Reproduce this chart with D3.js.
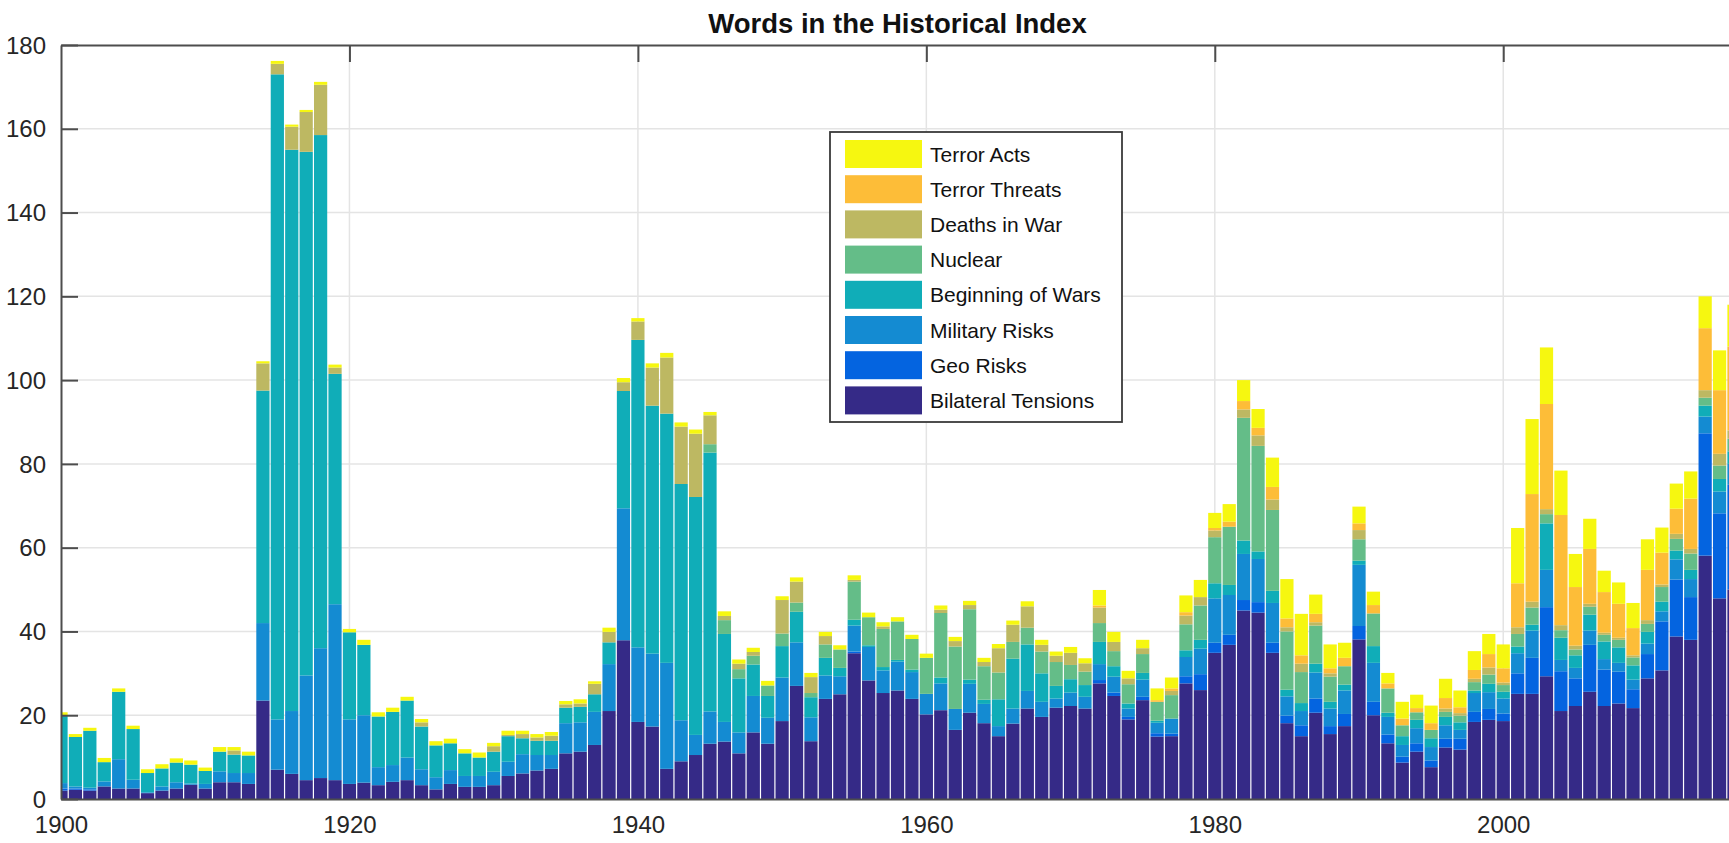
<!DOCTYPE html>
<html>
<head>
<meta charset="utf-8">
<script src="https://cdn.jsdelivr.net/npm/d3@7"></script>
<style>
  body { margin: 0; background: #fff; }
  svg { display: block; font-family: "Liberation Sans", Arial, Helvetica, sans-serif; }
</style>
</head>
<body>
<svg width="1729" height="843"></svg>
<script>
'use strict';

// Words in the Historical Index, 1900-2016
const firstYear = 1900;

const bilateral = [
    2.0, 2.2, 2.0, 3.0, 2.5, 2.5, 1.4, 2.0, 2.5, 3.4,
    2.5, 4.0, 4.0, 3.6, 23.5, 7.0, 6.0, 4.5, 5.0, 4.5,
    3.6, 3.9, 3.3, 4.1, 4.5, 3.3, 2.3, 3.6, 2.9, 2.9,
    3.3, 5.5, 6.1, 6.8, 7.2, 10.9, 11.3, 12.9, 21.0, 37.9,
    18.4, 17.3, 7.2, 9.0, 10.5, 13.2, 13.7, 10.9, 15.9, 13.2,
    18.6, 27.0, 13.8, 23.9, 25.0, 34.8, 28.3, 25.3, 25.9, 23.9,
    20.2, 21.2, 16.5, 20.6, 18.1, 15.0, 18.0, 21.6, 19.6, 21.8,
    22.2, 21.6, 27.6, 24.6, 19.0, 23.6, 14.9, 15.0, 27.6, 26.0,
    34.9, 36.8, 45.0, 44.5, 34.9, 18.1, 15.0, 20.6, 15.5, 17.4,
    38.1, 20.0, 13.3, 8.7, 11.3, 7.6, 12.3, 11.8, 18.4, 18.9,
    18.6, 25.1, 25.1, 29.3, 21.0, 22.2, 25.6, 22.2, 22.8, 21.7,
    28.8, 30.7, 38.8, 38.0, 58.1, 47.9, 50.0
];
const geo = [
    0.5, 0.3, 0.3, 0, 0, 0, 0, 0, 0, 0,
    0, 0, 0, 0, 0, 0, 0, 0, 0, 0,
    0, 0, 0, 0, 0, 0, 0, 0, 0, 0,
    0, 0, 0, 0, 0, 0, 0, 0, 0, 0,
    0, 0, 0, 0, 0, 0, 0, 0, 0, 0,
    0, 0, 0, 0, 0, 0.4, 0, 0, 0, 0,
    0, 0, 0, 0, 0, 0, 0, 0, 0, 0,
    0, 0, 0.8, 0.8, 0.6, 0.8, 0.8, 0.6, 1.7, 3.8,
    2.4, 2.4, 2.5, 2.5, 2.4, 1.8, 2.6, 3.4, 1.9, 2.9,
    3.2, 3.2, 2.1, 1.4, 2.0, 1.6, 2.1, 2.6, 2.4, 2.6,
    1.8, 4.9, 8.6, 16.5, 9.5, 6.6, 11.2, 8.7, 7.6, 4.5,
    5.8, 11.7, 13.6, 10.2, 29.2, 20.3, 25.0
];
const military = [
    1.3, 0.5, 0.4, 1.2, 7.0, 2.1, 0.2, 1.0, 1.5, 0.3,
    1.1, 2.6, 2.2, 2.6, 18.5, 12.0, 15.0, 25.0, 31.0, 42.0,
    15.4, 16.1, 4.3, 4.0, 5.4, 3.8, 2.9, 3.3, 2.6, 2.6,
    3.2, 3.4, 4.6, 3.7, 3.3, 7.2, 7.0, 7.9, 11.2, 31.5,
    17.8, 17.4, 25.3, 9.8, 4.8, 7.7, 4.7, 5.0, 8.7, 6.2,
    10.4, 10.4, 5.7, 5.6, 4.3, 6.2, 8.0, 5.4, 6.9, 6.4,
    4.9, 6.4, 5.0, 6.9, 4.6, 2.4, 3.6, 4.2, 3.6, 2.2,
    3.2, 2.8, 3.8, 3.8, 2.0, 4.1, 2.5, 3.6, 4.6, 6.1,
    10.6, 9.5, 11.0, 10.3, 9.5, 4.6, 3.4, 6.2, 4.2, 5.6,
    14.6, 9.3, 4.2, 2.8, 3.6, 3.2, 3.2, 2.1, 4.5, 4.0,
    3.6, 4.8, 6.5, 8.9, 2.7, 2.5, 3.4, 2.5, 2.1, 2.3,
    2.5, 2.4, 4.8, 4.3, 4.0, 5.2, 5.0
];
const beginning = [
    16.0, 11.8, 13.6, 4.6, 16.1, 12.1, 4.6, 4.3, 4.7, 4.5,
    3.1, 4.7, 4.4, 4.2, 55.5, 154.0, 134.0, 125.0, 122.5, 55.0,
    20.8, 16.8, 12.1, 12.7, 13.6, 10.2, 7.6, 6.4, 5.4, 4.4,
    4.8, 6.1, 3.8, 3.4, 3.4, 3.7, 3.7, 4.2, 5.2, 28.0,
    73.4, 59.2, 59.5, 56.4, 56.8, 61.8, 21.0, 12.9, 7.5, 5.2,
    7.5, 7.3, 4.8, 4.2, 2.0, 1.4, 0.4, 0.8, 0.4, 0.6,
    0, 1.4, 0, 1.0, 1.0, 6.4, 11.9, 11.1, 6.8, 3.0,
    3.2, 2.8, 5.3, 2.5, 1.2, 1.6, 0.5, 0, 1.6, 2.1,
    3.6, 2.4, 3.2, 1.8, 2.9, 1.6, 1.9, 2.1, 1.6, 1.4,
    1.0, 4.0, 1.0, 2.1, 2.0, 2.1, 2.0, 1.8, 0.6, 2.0,
    1.6, 1.6, 1.4, 11.1, 5.3, 3.0, 3.8, 4.2, 3.7, 3.4,
    2.8, 2.3, 2.1, 2.2, 2.6, 3.0, 3.0
];
const nuclear = [
    0, 0, 0, 0, 0, 0, 0, 0, 0, 0,
    0, 0, 0, 0, 0, 0, 0, 0, 0, 0,
    0, 0, 0, 0, 0, 0, 0, 0, 0, 0,
    0, 0, 0, 0, 0, 0, 0, 0, 0, 0,
    0, 0, 0, 0, 0, 2.0, 3.3, 2.2, 2.1, 2.5,
    3.0, 2.2, 1.0, 3.2, 4.4, 9.1, 6.7, 9.1, 9.2, 7.3,
    8.6, 15.4, 14.9, 16.8, 8.0, 6.4, 4.0, 4.0, 5.2, 5.7,
    3.4, 3.2, 4.5, 3.6, 4.6, 4.5, 4.5, 5.6, 6.2, 8.2,
    11.0, 13.9, 29.3, 25.2, 19.3, 13.9, 7.4, 9.1, 6.0, 4.4,
    5.1, 7.8, 5.8, 2.6, 1.8, 2.0, 1.2, 1.6, 2.0, 2.2,
    1.6, 3.0, 4.1, 2.2, 1.8, 1.4, 1.9, 1.6, 1.8, 1.9,
    1.9, 3.5, 2.8, 3.9, 1.9, 3.2, 3.0
];
const deaths = [
    0, 0, 0, 0, 0, 0, 0, 0, 0, 0,
    0, 0, 1.0, 0, 6.5, 2.5, 5.5, 9.5, 12.0, 1.5,
    0, 0, 0, 0, 0, 1.0, 0, 0, 0, 0,
    1.3, 0.3, 1.0, 0.8, 1.2, 0.8, 0.8, 2.5, 2.5, 2.1,
    4.4, 9.1, 13.4, 13.7, 15.1, 6.9, 1.0, 1.3, 0.9, 0,
    8.0, 5.0, 3.8, 2.0, 0, 0.4, 0, 0.6, 0, 0,
    0, 0.8, 1.3, 1.0, 1.0, 5.8, 4.1, 5.1, 1.6, 1.5,
    2.9, 2.0, 3.7, 2.2, 1.4, 1.4, 0, 1.0, 2.1, 2.0,
    1.6, 0, 2.0, 2.5, 2.5, 1.0, 2.0, 0.8, 0.8, 0,
    2.2, 0, 0, 0, 0, 0, 0.8, 0.6, 0.8, 1.7,
    0.6, 1.6, 1.4, 1.2, 1.2, 0.9, 0.7, 0.5, 0.5, 0.5,
    0.9, 0.6, 1.2, 1.1, 1.8, 2.8, 2.0
];
const threats = [
    0, 0, 0, 0, 0, 0, 0, 0, 0, 0,
    0, 0, 0, 0, 0, 0, 0, 0, 0, 0,
    0, 0, 0, 0, 0, 0, 0, 0, 0, 0,
    0, 0, 0, 0, 0, 0, 0, 0, 0, 0,
    0, 0, 0, 0, 0, 0, 0, 0, 0, 0,
    0, 0, 0, 0, 0, 0, 0, 0, 0, 0,
    0, 0, 0, 0, 0, 0, 0, 0, 0, 0,
    0, 0, 0.5, 0, 0, 0, 0.4, 0.6, 0.8, 0,
    0.6, 1.2, 2.0, 1.8, 3.0, 2.1, 2.0, 2.0, 1.2, 2.0,
    1.6, 2.0, 1.2, 1.6, 1.0, 1.6, 2.5, 1.4, 2.1, 3.2,
    3.4, 10.5, 25.7, 25.1, 26.3, 14.0, 13.1, 9.7, 8.1, 6.5,
    12.0, 7.6, 6.0, 12.0, 14.8, 15.2, 20.0
];
const acts = [
    0.9, 0.7, 0.7, 1.0, 0.8, 0.8, 0.9, 1.0, 1.0, 1.0,
    0.8, 1.1, 0.8, 0.9, 0.5, 0.7, 0.5, 0.5, 0.7, 0.7,
    0.8, 1.2, 1.0, 1.0, 0.9, 0.8, 1.0, 1.1, 1.0, 1.2,
    0.8, 1.0, 0.8, 0.8, 0.9, 0.8, 1.0, 0.6, 1.0, 1.0,
    0.8, 1.0, 1.1, 1.0, 1.0, 0.8, 1.1, 1.0, 1.0, 1.1,
    0.9, 1.0, 1.0, 1.0, 1.0, 1.1, 1.1, 1.0, 1.0, 1.0,
    1.0, 1.0, 1.0, 1.0, 1.0, 1.0, 1.0, 1.2, 1.2, 1.0,
    1.4, 1.2, 3.7, 2.4, 1.8, 2.0, 2.8, 2.6, 4.0, 4.1,
    3.6, 4.2, 5.0, 4.5, 7.0, 9.4, 9.9, 4.6, 5.7, 3.6,
    4.0, 3.2, 2.5, 4.0, 3.2, 4.2, 4.6, 4.0, 4.5, 4.8,
    5.7, 13.2, 17.9, 13.5, 10.6, 7.9, 7.2, 5.1, 5.1, 6.0,
    7.3, 6.0, 6.0, 6.5, 7.6, 9.5, 10.0
];

// bottom to top
const seriesNames = ["Bilateral Tensions", "Geo Risks", "Military Risks", "Beginning of Wars",
    "Nuclear", "Deaths in War", "Terror Threats", "Terror Acts"];
const seriesValues = [bilateral, geo, military, beginning, nuclear, deaths, threats, acts];
const seriesColors = ["#352a87", "#0464e0", "#148bd2", "#10adb8",
    "#64bd88", "#bdb862", "#fdbd38", "#f6f710"];

const yTicks = [0, 20, 40, 60, 80, 100, 120, 140, 160, 180];
const xTicks = [1900, 1920, 1940, 1960, 1980, 2000];

const years = d3.range(firstYear, firstYear + bilateral.length);
const table = years.map((yr, i) => {
    const row = {year: yr};
    seriesNames.forEach((name, k) => row[name] = seriesValues[k][i]);
    return row;
});

const svg = d3.select("svg"),
    plotLeft = 61, plotRight = 1734, plotTop = 45, plotBottom = 799,
    tickLen = 17;

const x = d3.scaleLinear().domain([1900, 2016]).range([plotLeft, plotRight]);
const y = d3.scaleLinear().domain([0, 180]).range([plotBottom, plotTop]);
const color = d3.scaleOrdinal().domain(seriesNames).range(seriesColors);

svg.append("defs").append("clipPath")
    .attr("id", "plot")
    .append("rect")
    .attr("x", plotLeft).attr("y", plotTop)
    .attr("width", plotRight - plotLeft).attr("height", plotBottom - plotTop);

// grid
const grid = svg.append("g").attr("class", "grid");

grid.selectAll("line.h")
    .data(yTicks.slice(1, -1))
    .enter().append("line")
    .attr("class", "h")
    .attr("x1", plotLeft).attr("x2", plotRight)
    .attr("y1", d => y(d)).attr("y2", d => y(d));

grid.selectAll("line.v")
    .data(xTicks.slice(1))
    .enter().append("line")
    .attr("class", "v")
    .attr("x1", d => x(d)).attr("x2", d => x(d))
    .attr("y1", plotTop).attr("y2", plotBottom);

grid.selectAll("line")
    .style("stroke", "#e4e4e4").style("stroke-width", 1.5);

// stacked bars
const stack = d3.stack().keys(seriesNames);
const step = x(firstYear + 1) - x(firstYear);

svg.append("g")
    .attr("clip-path", "url(#plot)")
    .selectAll("g")
    .data(stack(table))
    .enter().append("g")
    .style("fill", d => color(d.key))
    .selectAll("rect")
    .data(d => d)
    .enter().append("rect")
    .attr("x", d => x(d.data.year) - step / 2 + 0.6)
    .attr("width", step - 1.2)
    .attr("y", d => y(d[1]))
    .attr("height", d => Math.max(0, y(d[0]) - y(d[1])));

// axes
const axisColor = "#4d4d4d";

const xAxis = svg.append("g")
    .attr("transform", `translate(0,${plotBottom})`)
    .call(d3.axisBottom(x).tickValues(xTicks).tickFormat(d3.format("d"))
        .tickSizeInner(-tickLen).tickSizeOuter(0).tickPadding(17));

const xAxisTop = svg.append("g")
    .attr("transform", `translate(0,${plotTop})`)
    .call(d3.axisTop(x).tickValues(xTicks).tickFormat("")
        .tickSizeInner(-tickLen).tickSizeOuter(0));

const yAxis = svg.append("g")
    .attr("transform", `translate(${plotLeft},0)`)
    .call(d3.axisLeft(y).tickValues(yTicks)
        .tickSizeInner(-tickLen).tickSizeOuter(0).tickPadding(15));

[xAxis, xAxisTop, yAxis].forEach(a => {
    a.select(".domain").style("stroke", axisColor).style("stroke-width", 2);
    a.selectAll(".tick line").style("stroke", axisColor).style("stroke-width", 2);
    a.selectAll(".tick text")
        .style("font-size", "24px")
        .style("fill", "#262626")
        .style("font-family", "'Liberation Sans', Arial, sans-serif");
});
xAxis.selectAll(".tick line").style("display", "none");
xAxisTop.selectAll(".tick").filter(d => d === 1900).select("line").style("display", "none");
yAxis.selectAll(".tick text").attr("dy", "0.34em");

// title
svg.append("text")
    .attr("x", (plotLeft + plotRight) / 2)
    .attr("y", 33)
    .attr("text-anchor", "middle")
    .style("font-size", "27.5px")
    .style("font-weight", "bold")
    .style("fill", "#111")
    .text("Words in the Historical Index");

// legend, top entry is the last series
const legend = svg.append("g")
    .attr("transform", "translate(830,132)");

legend.append("rect")
    .attr("width", 292).attr("height", 290)
    .style("fill", "#fff")
    .style("stroke", "#3a3a3a")
    .style("stroke-width", 1.8);

const item = legend.selectAll("g")
    .data(seriesNames.slice().reverse())
    .enter().append("g")
    .attr("transform", (d, i) => `translate(15,${8 + i * 35.2})`);

item.append("rect")
    .attr("width", 77).attr("height", 28)
    .style("fill", d => color(d));

item.append("text")
    .attr("x", 85)
    .attr("y", 14)
    .attr("dy", "0.36em")
    .style("font-size", "21px")
    .style("fill", "#111")
    .text(d => d);
</script>
